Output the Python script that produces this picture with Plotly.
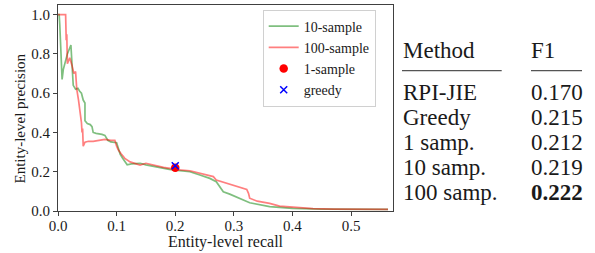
import plotly.graph_objects as go

# ---- data ----
recall_10 = [0.0, 0.002, 0.003, 0.005, 0.007, 0.009, 0.012, 0.016, 0.022, 0.024, 0.026, 0.030,
             0.034, 0.037, 0.040, 0.043, 0.046, 0.046, 0.050, 0.055, 0.058, 0.060, 0.065, 0.075,
             0.080, 0.085, 0.090, 0.100, 0.102, 0.106, 0.110, 0.115, 0.118, 0.125, 0.140, 0.150,
             0.170, 0.190, 0.200, 0.225, 0.242, 0.259, 0.270, 0.276, 0.282, 0.293, 0.310, 0.327,
             0.361, 0.400, 0.450, 0.500, 0.563]
precision_10 = [1.0, 1.0, 0.95, 0.80, 0.67, 0.72, 0.76, 0.80, 0.845, 0.75, 0.64, 0.62,
                0.625, 0.61, 0.60, 0.565, 0.55, 0.46, 0.445, 0.44, 0.43, 0.40, 0.395, 0.39,
                0.385, 0.36, 0.352, 0.348, 0.33, 0.29, 0.27, 0.245, 0.235, 0.24, 0.243, 0.235,
                0.222, 0.212, 0.208, 0.200, 0.183, 0.166, 0.149, 0.124, 0.098, 0.086, 0.065, 0.042,
                0.022, 0.013, 0.010, 0.009, 0.008]

recall_100 = [0.0, 0.013, 0.014, 0.015, 0.016, 0.020, 0.024, 0.027, 0.030, 0.032, 0.035, 0.038,
              0.040, 0.041, 0.042, 0.043, 0.046, 0.052, 0.060, 0.070, 0.080, 0.090, 0.097, 0.100,
              0.103, 0.108, 0.114, 0.123, 0.140, 0.150, 0.160, 0.170, 0.180, 0.191, 0.205, 0.225,
              0.242, 0.259, 0.265, 0.270, 0.290, 0.310, 0.322, 0.325, 0.327, 0.340, 0.361, 0.378,
              0.407, 0.435, 0.470, 0.520, 0.563]
precision_100 = [1.0, 1.0, 0.87, 0.90, 0.75, 0.78, 0.74, 0.70, 0.71, 0.62, 0.565, 0.50,
                 0.45, 0.40, 0.42, 0.33, 0.35, 0.355, 0.355, 0.36, 0.365, 0.36, 0.36, 0.33,
                 0.31, 0.29, 0.268, 0.25, 0.234, 0.243, 0.235, 0.228, 0.222, 0.217, 0.210, 0.205,
                 0.192, 0.178, 0.175, 0.158, 0.140, 0.120, 0.110, 0.090, 0.065, 0.050, 0.039, 0.025,
                 0.017, 0.012, 0.010, 0.009, 0.008]

one_sample = (0.200, 0.220)
greedy = (0.200, 0.230)

table_methods = ["RPI-JIE", "Greedy", "1 samp.", "10 samp.", "100 samp."]
table_f1 = ["0.170", "0.215", "0.212", "0.219", "0.222"]
table_bold = [False, False, False, False, True]

# ---- figure ----
W, H = 595, 253
ML, MR, MT, MB = 58, 202, 5, 42
PW, PH = W - ML - MR, H - MT - MB

def px(x):
    return (x - ML) / PW

def py(y):
    return (H - MB - y) / PH

SERIF = "Liberation Serif"
TXT = "#1a1a1a"

fig = go.Figure()
fig.add_trace(go.Scatter(x=recall_10, y=precision_10, mode="lines", name="10-sample",
                         line=dict(color="rgba(0,128,0,0.5)", width=1.7)))
fig.add_trace(go.Scatter(x=recall_100, y=precision_100, mode="lines", name="100-sample",
                         line=dict(color="rgba(255,0,0,0.5)", width=1.7)))
fig.add_trace(go.Scatter(x=[one_sample[0]], y=[one_sample[1]], mode="markers", name="1-sample",
                         marker=dict(color="red", size=8.5, symbol="circle")))
fig.add_trace(go.Scatter(x=[greedy[0]], y=[greedy[1]], mode="markers", name="greedy",
                         marker=dict(color="blue", size=7, symbol="x-thin",
                                     line=dict(color="blue", width=1.5))))

axis_common = dict(showline=True, mirror=True, linecolor="#404040", linewidth=1.2,
                   ticks="outside", ticklen=4, tickcolor="#404040", showgrid=False,
                   zeroline=False, automargin=False,
                   tickfont=dict(family=SERIF, size=15, color=TXT))
fig.update_xaxes(range=[0, 0.5715], tickvals=[0, 0.1, 0.2, 0.3, 0.4, 0.5],
                 ticktext=["0.0", "0.1", "0.2", "0.3", "0.4", "0.5"],
                 ticklabelstandoff=-3, **axis_common)
fig.update_yaxes(range=[0, 1.049], tickvals=[0, 0.2, 0.4, 0.6, 0.8, 1.0],
                 ticktext=["0.0", "0.2", "0.4", "0.6", "0.8", "1.0"], **axis_common)

annotations = []
shapes = []
# axis titles
annotations.append(dict(text="Entity-level recall", x=px(225.7), y=py(242), xref="paper",
                        yref="paper", xanchor="center", yanchor="middle", showarrow=False,
                        font=dict(family=SERIF, size=16, color=TXT)))
annotations.append(dict(text="Entity-level precision", x=px(19), y=py(118.5), xref="paper",
                        yref="paper", xanchor="center", yanchor="middle", showarrow=False,
                        textangle=-90, font=dict(family=SERIF, size=15, color=TXT)))

# table
TS = 23
col1, col2 = 401.0, 528.5
annotations.append(dict(text="Method", x=px(col1), y=py(50.7), xref="paper", yref="paper",
                        xanchor="left", yanchor="middle", showarrow=False,
                        font=dict(family=SERIF, size=TS, color=TXT)))
annotations.append(dict(text="F1", x=px(col2), y=py(50.7), xref="paper", yref="paper",
                        xanchor="left", yanchor="middle", showarrow=False,
                        font=dict(family=SERIF, size=TS, color=TXT)))
row_y = [92.0, 117.0, 142.5, 167.5, 192.8]
for m, v, b, ry in zip(table_methods, table_f1, table_bold, row_y):
    annotations.append(dict(text=m, x=px(col1), y=py(ry), xref="paper", yref="paper",
                            xanchor="left", yanchor="middle", showarrow=False,
                            font=dict(family=SERIF, size=TS, color=TXT)))
    annotations.append(dict(text=f"<b>{v}</b>" if b else v, x=px(col2), y=py(ry), xref="paper",
                            yref="paper", xanchor="left", yanchor="middle", showarrow=False,
                            font=dict(family=SERIF, size=TS, color=TXT)))
shapes.append(dict(type="line", xref="paper", yref="paper", x0=px(402), x1=px(501.7),
                   y0=py(70.7), y1=py(70.7), line=dict(color="#555", width=1.2)))
shapes.append(dict(type="line", xref="paper", yref="paper", x0=px(531), x1=px(582),
                   y0=py(70.7), y1=py(70.7), line=dict(color="#555", width=1.2)))

fig.update_layout(
    width=W, height=H, margin=dict(l=ML, r=MR, t=MT, b=MB),
    plot_bgcolor="white", paper_bgcolor="white",
    font=dict(family=SERIF),
    annotations=annotations, shapes=shapes,
    legend=dict(x=px(262.7), y=py(9.5), xanchor="left", yanchor="top",
                bgcolor="white", bordercolor="#d0d0d0", borderwidth=1,
                font=dict(family=SERIF, size=14, color=TXT), tracegroupgap=0),
)

fig.write_html("out.html", config={"displayModeBar": False},
               post_script="document.body.style.margin='0';document.body.style.overflow='hidden';")
